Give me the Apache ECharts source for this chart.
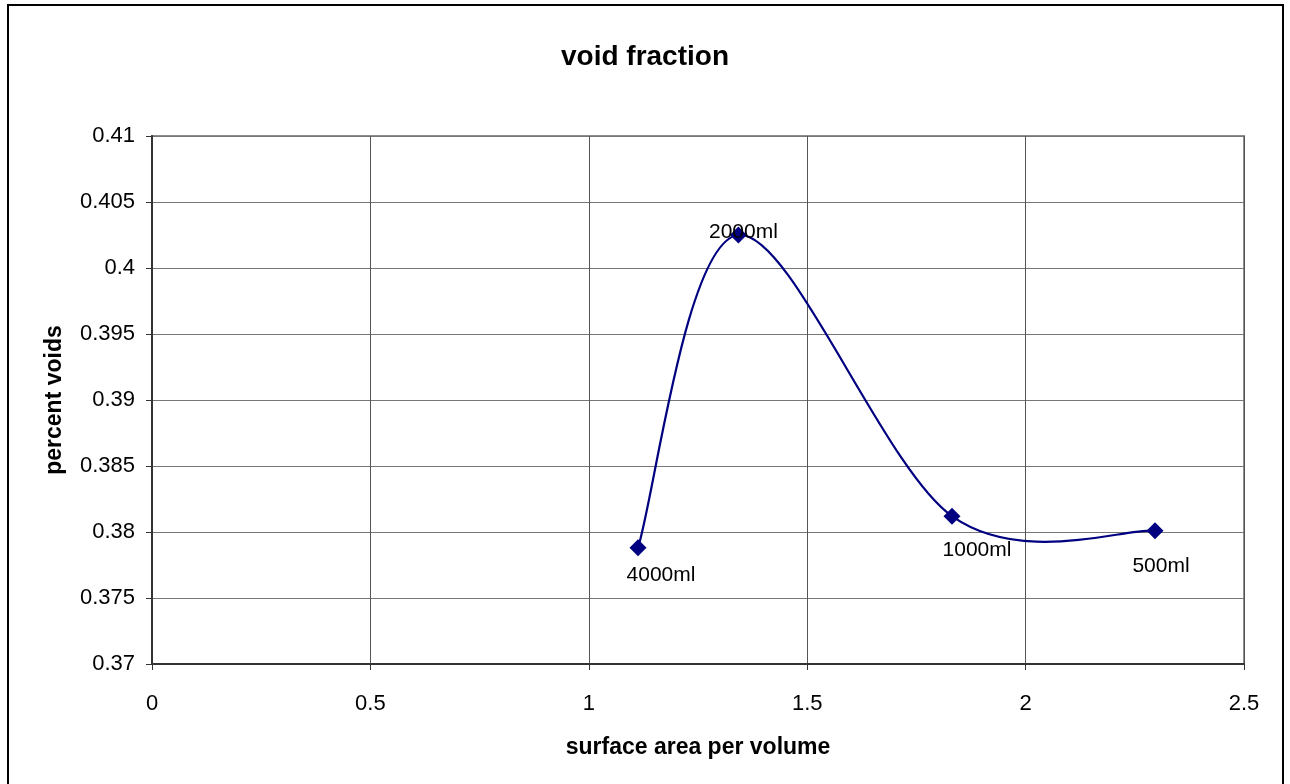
<!DOCTYPE html>
<html>
<head>
<meta charset="utf-8">
<script src="https://cdn.jsdelivr.net/npm/echarts@6/dist/echarts.min.js"></script>
<style>
  html, body { margin: 0; padding: 0; background: #fff; }
  #chart { width: 1290px; height: 784px; }
</style>
</head>
<body>
<div id="chart"></div>
<script>
// surface area per volume vs percent voids
const xValues = [1.1126, 1.3425, 1.8315, 2.2962]
const yValues = [0.3788, 0.4025, 0.3812, 0.3801]
const pointLabels = ['4000ml', '2000ml', '1000ml', '500ml']
// label offsets per point (Excel put them wherever)
const labelOffsets = [[23, 27], [5, -3], [25, 34], [6, 36]]

const font = 'Liberation Sans, Arial, sans-serif'

const chart = echarts.init(document.getElementById('chart'))

const points = xValues.map((x, i) => [x, yValues[i]])

// Excel style smoothed line: catmull-rom bezier in screen space
function renderSegment(params, api) {
  const i = params.dataIndex
  const n = points.length
  if (i >= n - 1) return null
  const p = (j) => api.coord(points[Math.max(0, Math.min(n - 1, j))])
  const p0 = p(i - 1)
  const p1 = p(i)
  const p2 = p(i + 1)
  const p3 = p(i + 2)
  return {
    type: 'bezierCurve',
    shape: {
      x1: p1[0],
      y1: p1[1],
      x2: p2[0],
      y2: p2[1],
      cpx1: p1[0] + (p2[0] - p0[0]) / 6,
      cpy1: p1[1] + (p2[1] - p0[1]) / 6,
      cpx2: p2[0] - (p3[0] - p1[0]) / 6,
      cpy2: p2[1] - (p3[1] - p1[1]) / 6,
    },
    style: { stroke: '#000080', lineWidth: 2.2, fill: 'none' },
  }
}

const option = {
  animation: false,
  title: {
    text: 'void fraction',
    left: 'center',
    top: 38,
    textStyle: { fontFamily: font, fontSize: 28, fontWeight: 'bold', color: '#000' },
  },
  graphic: [
    {
      type: 'rect',
      shape: { x: 8, y: 5, width: 1275, height: 790 },
      style: { fill: 'none', stroke: '#000', lineWidth: 2 },
      silent: true,
    },
  ],
  grid: {
    left: 152,
    right: 46,
    top: 136,
    bottom: 120,
    show: true,
    borderColor: '#8c8c8c',
    borderWidth: 2,
  },
  xAxis: {
    type: 'value',
    min: 0,
    max: 2.5,
    interval: 0.5,
    name: 'surface area per volume',
    nameLocation: 'middle',
    nameGap: 72,
    nameTextStyle: { fontFamily: font, fontSize: 23, fontWeight: 'bold', color: '#000' },
    axisLine: { show: true, lineStyle: { color: '#333', width: 2 } },
    axisTick: { show: true, length: 6, lineStyle: { color: '#333' } },
    axisLabel: { fontFamily: font, fontSize: 22, color: '#000', margin: 29 },
    splitLine: { show: true, lineStyle: { color: '#555', width: 1 } },
  },
  yAxis: {
    type: 'value',
    min: 0.37,
    max: 0.41,
    interval: 0.005,
    name: 'percent voids',
    nameLocation: 'middle',
    nameGap: 86,
    nameTextStyle: { fontFamily: font, fontSize: 23, fontWeight: 'bold', color: '#000' },
    axisLine: { show: true, lineStyle: { color: '#333', width: 2 } },
    axisTick: { show: true, length: 6, lineStyle: { color: '#333' } },
    axisLabel: {
      fontFamily: font,
      fontSize: 22,
      color: '#000',
      margin: 17,
      formatter: (v) => String(+v.toFixed(3)),
    },
    splitLine: { show: true, lineStyle: { color: '#777', width: 1 } },
  },
  series: [
    {
      type: 'custom',
      renderItem: renderSegment,
      data: points,
      encode: { x: 0, y: 1 },
      silent: true,
      z: 2,
    },
    {
      type: 'scatter',
      data: points.map((pt, i) => ({ value: pt, label: { offset: labelOffsets[i] } })),
      symbol: 'diamond',
      symbolSize: 17,
      itemStyle: { color: '#000080', opacity: 1 },
      z: 3,
      label: {
        show: true,
        position: 'inside',
        align: 'center',
        verticalAlign: 'middle',
        fontFamily: font,
        fontSize: 21,
        color: '#000',
        opacity: 1,
        formatter: (p) => pointLabels[p.dataIndex],
      },
    },
  ],
}

chart.setOption(option)
</script>
</body>
</html>
